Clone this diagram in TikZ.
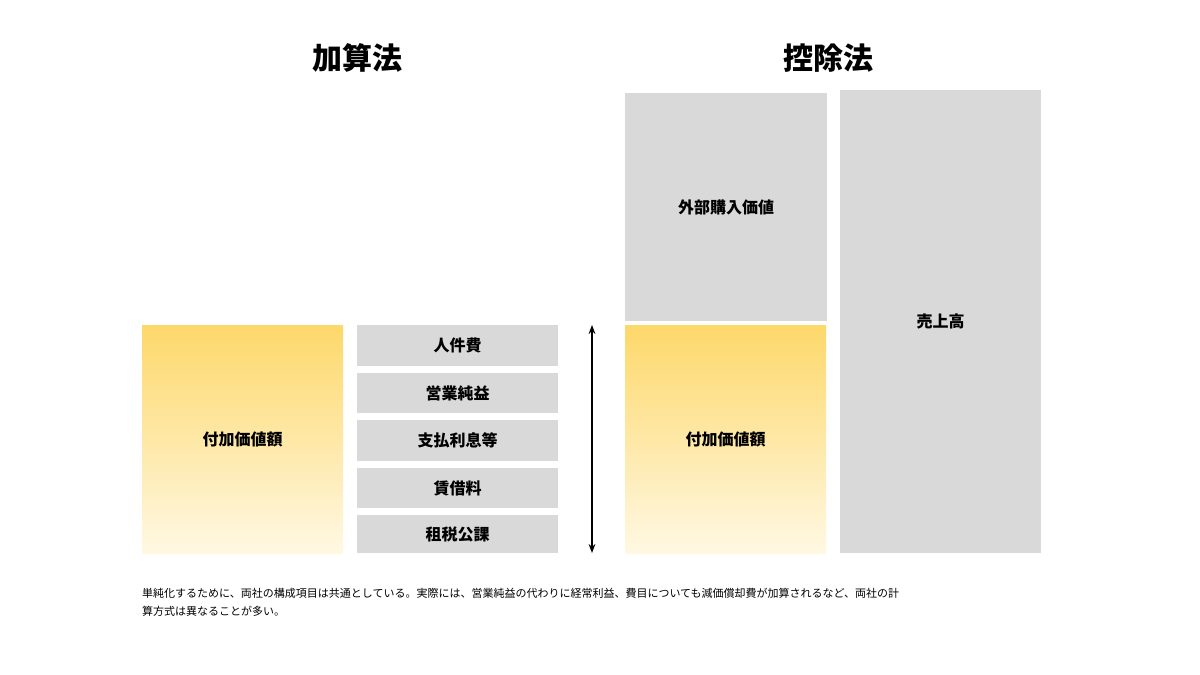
\documentclass[tikz,border=0pt]{standalone}
\usepackage{fontspec}
\setmainfont{Noto Sans CJK JP}
\usetikzlibrary{arrows.meta}
\definecolor{boxgray}{HTML}{D9D9D9}
\definecolor{valtop}{HTML}{FDD86A}
\definecolor{valbot}{HTML}{FFF8E3}
\tikzset{
    graybox/.style={fill=boxgray, draw=none, inner sep=0pt, font=\fontsize{16}{18}\selectfont\bfseries},
    valbox/.style={top color=valtop, bottom color=valbot, draw=none, inner sep=0pt, font=\fontsize{16}{18}\selectfont\bfseries},
    title/.style={font=\fontsize{30}{34}\selectfont\bfseries},
}
\begin{document}
\begin{tikzpicture}[x=1pt, y=-1pt]
    \useasboundingbox (0,0) rectangle (1200,675);
    \node[title] (addtitle) at (357,58) {加算法};
    \node[title] (subtitle) at (828,58) {控除法};

    % addition method
    \node[valbox, minimum width=201pt, minimum height=228pt] (addval) at (242.5,439) {付加価値額};
    \node[graybox, minimum width=201pt, minimum height=41pt] (labor) at (457.5,345.5) {人件費};
    \node[graybox, minimum width=201pt, minimum height=40pt] (profit) at (457.5,393) {営業純益};
    \node[graybox, minimum width=201pt, minimum height=41pt] (interest) at (457.5,440.5) {支払利息等};
    \node[graybox, minimum width=201pt, minimum height=40pt] (rent) at (457.5,488) {賃借料};
    \node[graybox, minimum width=201pt, minimum height=38pt] (tax) at (457.5,534) {租税公課};

    % subtraction method
    \coordinate (arrtop) at (592,325);
    \coordinate (arrbot) at (592,553);
    \draw[{Stealth[length=9pt]}-{Stealth[length=9pt]}, line width=2pt] (arrtop) -- (arrbot);
    \node[graybox, minimum width=202pt, minimum height=228pt] (purchase) at (726,207) {外部購入価値};
    \node[valbox, minimum width=201pt, minimum height=228pt] (subval) at (725.5,439) {付加価値額};
    \node[graybox, minimum width=201pt, minimum height=463pt] (sales) at (940.5,321.5) {売上高};

    \node[anchor=north west, align=left, font=\fontsize{11}{18}\selectfont, inner sep=0pt] (note) at (142,588)
        {単純化するために、両社の構成項目は共通としている。実際には、営業純益の代わりに経常利益、費目についても減価償却費が加算されるなど、両社の計\\算方式は異なることが多い。};
\end{tikzpicture}
\end{document}
